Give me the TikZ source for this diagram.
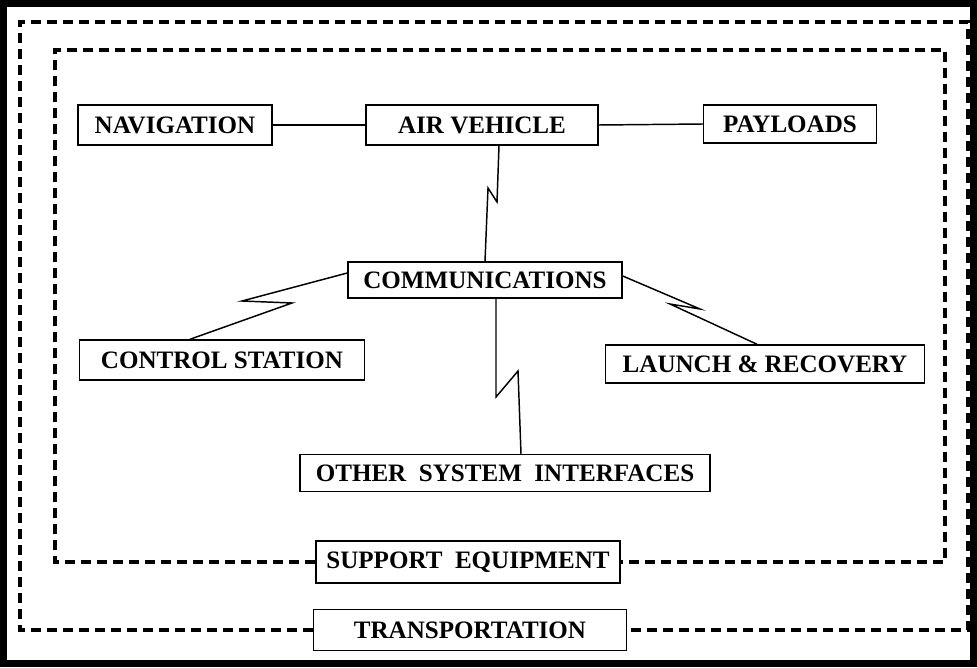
\documentclass[tikz,border=0pt]{standalone}
\usepackage{fontspec}
\setmainfont{Liberation Serif}
\usepackage{tikz}
\usetikzlibrary{calc}

\tikzset{
	unitbox/.style={draw, line width=1.1pt, inner sep=3pt, align=center,
		font=\bfseries\fontsize{18.8}{21}\selectfont},
	dashbox/.style={line width=2.4pt, dash pattern=on 7.5pt off 4.5pt},
	link/.style={line width=1.1pt, line join=miter}
}

\begin{document}
\begin{tikzpicture}[x=0.75pt, y=-0.75pt]
			\useasboundingbox (0,0) rectangle (977,667);
			\draw [line width=5.25pt] (3.5,3.5) rectangle (973.5,663.5);
			
			\node [unitbox, minimum width=145.5pt, minimum height=30pt] (nav) at (175,125) {NAVIGATION};
			\node [unitbox, minimum width=174pt, minimum height=30pt] (av) at (482,125) {AIR VEHICLE};
			\node [unitbox, minimum width=129.75pt, minimum height=28.5pt] (pay) at (790,124) {PAYLOADS};
			\node [unitbox, minimum width=205.5pt, minimum height=27pt] (comm) at (485,280) {COMMUNICATIONS};
			\node [unitbox, minimum width=213.75pt, minimum height=30pt] (ctrl) at (222,360) {CONTROL STATION};
			\node [unitbox, minimum width=239.25pt, minimum height=28.5pt] (lr) at (765,364) {LAUNCH \& RECOVERY};
			\node [unitbox, minimum width=307.5pt, minimum height=27.75pt] (osi) at (505,473) {OTHER\ \ SYSTEM\ \ INTERFACES};
			\node [unitbox, minimum width=228pt, minimum height=31.5pt] (sup) at (468,562) {SUPPORT\ \ EQUIPMENT};
			\node [unitbox, minimum width=234.75pt, minimum height=30.75pt] (tr) at (470,630) {TRANSPORTATION};
			
			\draw [link] (nav.east) -- (av.west);
			\draw [link] (av.east) -- (pay.west);
			
			% radio links
			\draw [link] ([xshift=12.75pt]av.south) -- (497,202) -- (488,188) -- (comm.north);
			\draw [link] ([yshift=5.25pt]comm.west) -- (242,301) -- (292,303) -- ([xshift=-24pt]ctrl.north);
			\draw [link] ([yshift=3pt]comm.east) -- (700,309) -- (670,304) -- ([xshift=-6pt]lr.north);
			\draw [link] ([xshift=8.25pt]comm.south) -- (496,397) -- (518,371) -- ([xshift=12pt]osi.north);
			
			\begin{scope}[dashbox]
				\draw (sup.west) -| (55,50) -- (945,50) |- (sup.east);
				\draw (tr.west) -| (20,22) -- (968,22) |- (tr.east);
			\end{scope}
		\end{tikzpicture}
\end{document}
